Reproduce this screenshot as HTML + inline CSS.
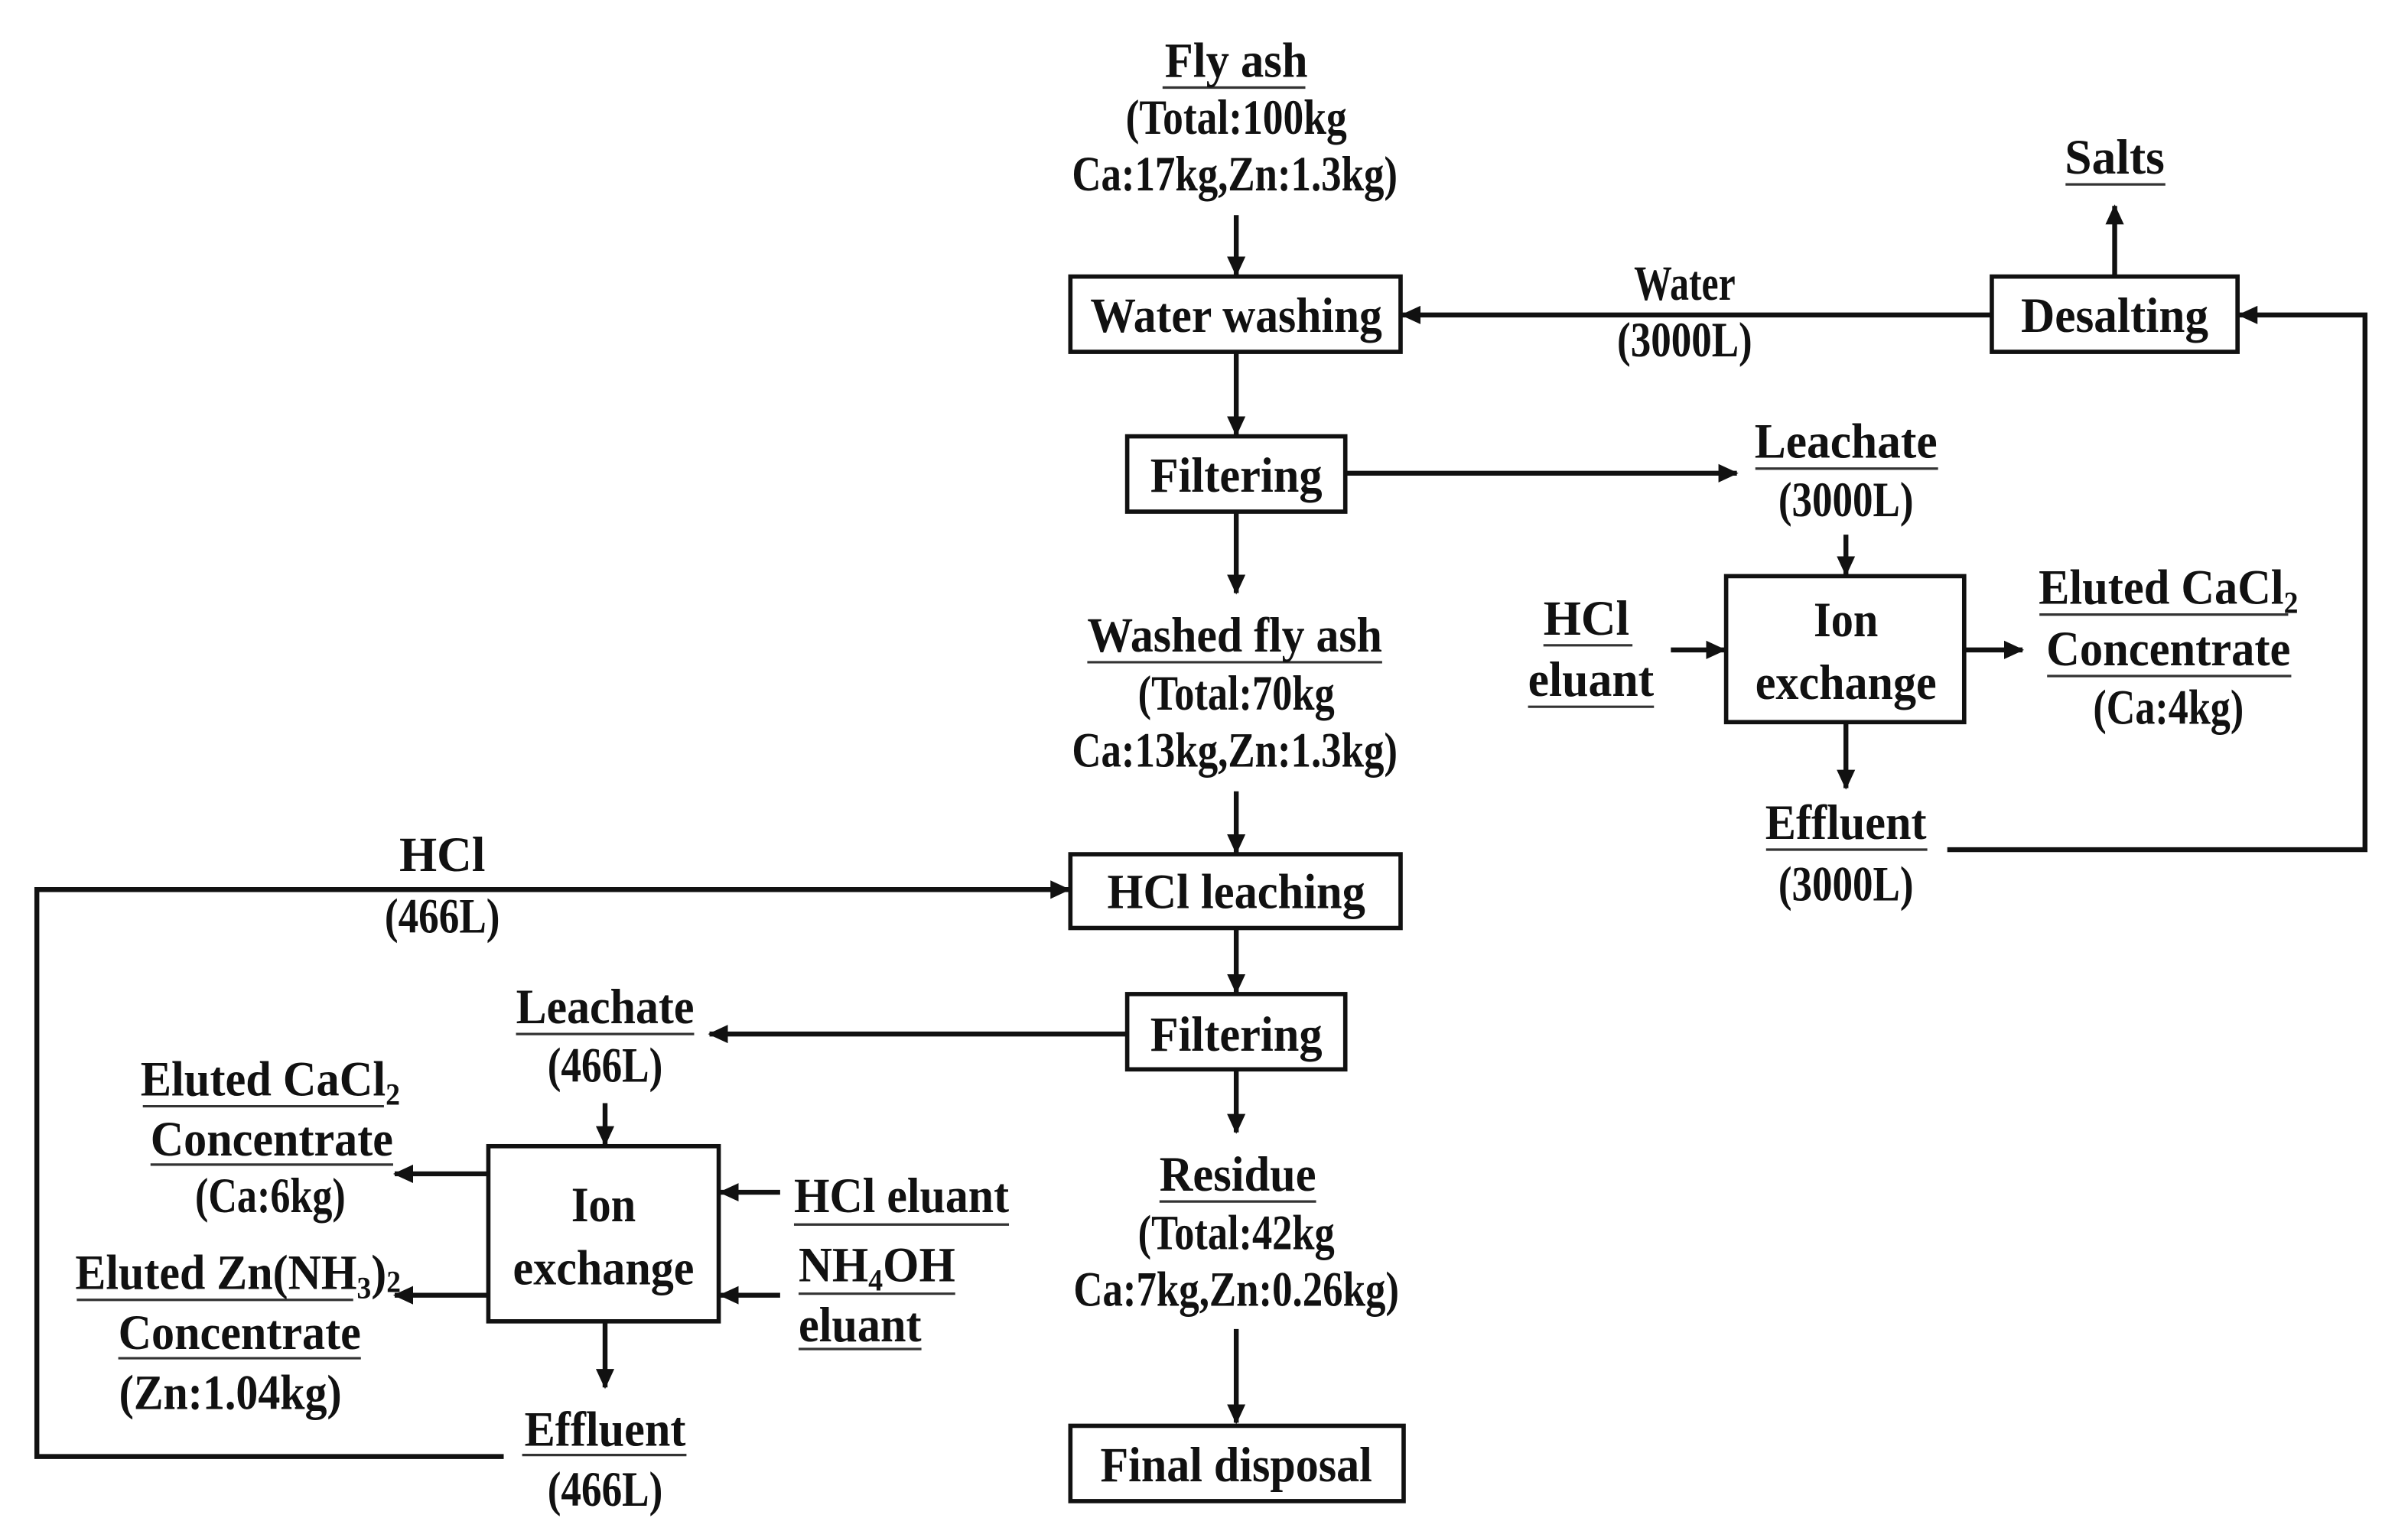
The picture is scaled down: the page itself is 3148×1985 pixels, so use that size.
<!DOCTYPE html>
<html><head><meta charset="utf-8"><style>
html,body{margin:0;padding:0;background:#fff}
svg{display:block}
text{font-family:"Liberation Serif",serif;font-weight:bold;font-size:32px;fill:#111;text-anchor:middle}
.b{fill:#fff;stroke:#111;stroke-width:2.8}
.l{stroke:#111;stroke-width:3.2;fill:none}
.u{stroke:#333;stroke-width:1.6}
</style></head><body>
<svg width="3148" height="1985" viewBox="0 0 1568 988" preserveAspectRatio="none" xmlns="http://www.w3.org/2000/svg">
<defs><marker id="a" markerUnits="userSpaceOnUse" markerWidth="14" markerHeight="14" refX="12" refY="7" orient="auto"><path d="M0,1 L13,7 L0,13 z" fill="#111"/></marker></defs>

<rect class="b" x="697" y="180" width="215" height="49"/>
<rect class="b" x="734" y="284" width="142" height="49"/>
<rect class="b" x="1297" y="180" width="160" height="49"/>
<rect class="b" x="1124" y="375" width="155" height="95"/>
<rect class="b" x="697" y="556" width="215" height="48"/>
<rect class="b" x="734" y="647" width="142" height="49"/>
<rect class="b" x="318" y="746" width="150" height="114"/>
<rect class="b" x="697" y="928" width="217" height="49"/>

<line class="l" x1="805" y1="140" x2="805" y2="179" marker-end="url(#a)"/>
<line class="l" x1="805" y1="229" x2="805" y2="283" marker-end="url(#a)"/>
<line class="l" x1="876" y1="308" x2="1131" y2="308" marker-end="url(#a)"/>
<line class="l" x1="1202" y1="348" x2="1202" y2="374" marker-end="url(#a)"/>
<line class="l" x1="1088" y1="423" x2="1123" y2="423" marker-end="url(#a)"/>
<line class="l" x1="1280" y1="423" x2="1317" y2="423" marker-end="url(#a)"/>
<line class="l" x1="1202" y1="470" x2="1202" y2="513" marker-end="url(#a)"/>
<polyline class="l" points="1268,553 1540,553 1540,205 1458,205" marker-end="url(#a)"/>
<line class="l" x1="1297" y1="205" x2="913" y2="205" marker-end="url(#a)"/>
<line class="l" x1="1377" y1="180" x2="1377" y2="134" marker-end="url(#a)"/>
<line class="l" x1="805" y1="333" x2="805" y2="386" marker-end="url(#a)"/>
<line class="l" x1="805" y1="515" x2="805" y2="555" marker-end="url(#a)"/>
<polyline class="l" points="328,948 24,948 24,579 696,579" marker-end="url(#a)"/>
<line class="l" x1="805" y1="604" x2="805" y2="646" marker-end="url(#a)"/>
<line class="l" x1="734" y1="673" x2="462" y2="673" marker-end="url(#a)"/>
<line class="l" x1="394" y1="718" x2="394" y2="745" marker-end="url(#a)"/>
<line class="l" x1="318" y1="764" x2="257" y2="764" marker-end="url(#a)"/>
<line class="l" x1="318" y1="843" x2="257" y2="843" marker-end="url(#a)"/>
<line class="l" x1="508" y1="776" x2="469" y2="776" marker-end="url(#a)"/>
<line class="l" x1="508" y1="843" x2="469" y2="843" marker-end="url(#a)"/>
<line class="l" x1="394" y1="860" x2="394" y2="903" marker-end="url(#a)"/>
<line class="l" x1="805" y1="696" x2="805" y2="737" marker-end="url(#a)"/>
<line class="l" x1="805" y1="865" x2="805" y2="926" marker-end="url(#a)"/>

<g class="u">
<line x1="757" y1="57" x2="850" y2="57"/>
<line x1="1345" y1="120" x2="1410" y2="120"/>
<line x1="1143" y1="305" x2="1262" y2="305"/>
<line x1="1005" y1="420" x2="1063" y2="420"/>
<line x1="995" y1="460" x2="1077" y2="460"/>
<line x1="1328" y1="400" x2="1490" y2="400"/>
<line x1="1333" y1="440" x2="1492" y2="440"/>
<line x1="1150" y1="553" x2="1255" y2="553"/>
<line x1="708" y1="431" x2="900" y2="431"/>
<line x1="336" y1="673" x2="452" y2="673"/>
<line x1="93" y1="720" x2="250" y2="720"/>
<line x1="98" y1="758" x2="256" y2="758"/>
<line x1="50" y1="846" x2="230" y2="846"/>
<line x1="77" y1="884" x2="235" y2="884"/>
<line x1="517" y1="797" x2="657" y2="797"/>
<line x1="520" y1="842" x2="622" y2="842"/>
<line x1="520" y1="878" x2="600" y2="878"/>
<line x1="340" y1="947" x2="447" y2="947"/>
<line x1="755" y1="782" x2="857" y2="782"/>
</g>

<text x="805" y="50" textLength="93" lengthAdjust="spacingAndGlyphs">Fly ash</text>
<text x="805" y="87" textLength="144" lengthAdjust="spacingAndGlyphs">(Total:100kg</text>
<text x="804" y="124" textLength="212" lengthAdjust="spacingAndGlyphs">Ca:17kg,Zn:1.3kg)</text>
<text x="805" y="216" textLength="190" lengthAdjust="spacingAndGlyphs">Water washing</text>
<text x="805" y="320" textLength="112" lengthAdjust="spacingAndGlyphs">Filtering</text>
<text x="1377" y="216" textLength="122" lengthAdjust="spacingAndGlyphs">Desalting</text>
<text x="1377" y="113" textLength="65" lengthAdjust="spacingAndGlyphs">Salts</text>
<text x="1097" y="195" font-size="28" textLength="66" lengthAdjust="spacingAndGlyphs">Water</text>
<text x="1097" y="232" font-size="28" textLength="88" lengthAdjust="spacingAndGlyphs">(3000L)</text>
<text x="1202" y="298" textLength="119" lengthAdjust="spacingAndGlyphs">Leachate</text>
<text x="1202" y="336" font-size="28" textLength="88" lengthAdjust="spacingAndGlyphs">(3000L)</text>
<text x="1202" y="414" textLength="42" lengthAdjust="spacingAndGlyphs">Ion</text>
<text x="1202" y="455" textLength="118" lengthAdjust="spacingAndGlyphs">exchange</text>
<text x="1033" y="413" textLength="56" lengthAdjust="spacingAndGlyphs">HCl</text>
<text x="1036" y="453" textLength="82" lengthAdjust="spacingAndGlyphs">eluant</text>
<text x="1412" y="393" textLength="169" lengthAdjust="spacingAndGlyphs">Eluted CaCl<tspan font-size="20" dy="6">2</tspan></text>
<text x="1412" y="433" textLength="159" lengthAdjust="spacingAndGlyphs">Concentrate</text>
<text x="1412" y="471" font-size="28" textLength="98" lengthAdjust="spacingAndGlyphs">(Ca:4kg)</text>
<text x="1202" y="546" textLength="105" lengthAdjust="spacingAndGlyphs">Effluent</text>
<text x="1202" y="586" font-size="28" textLength="88" lengthAdjust="spacingAndGlyphs">(3000L)</text>
<text x="804" y="424" textLength="192" lengthAdjust="spacingAndGlyphs">Washed fly ash</text>
<text x="805" y="462" textLength="128" lengthAdjust="spacingAndGlyphs">(Total:70kg</text>
<text x="804" y="499" textLength="212" lengthAdjust="spacingAndGlyphs">Ca:13kg,Zn:1.3kg)</text>
<text x="805" y="591" textLength="168" lengthAdjust="spacingAndGlyphs">HCl leaching</text>
<text x="288" y="567" textLength="56" lengthAdjust="spacingAndGlyphs">HCl</text>
<text x="288" y="607" font-size="28" textLength="75" lengthAdjust="spacingAndGlyphs">(466L)</text>
<text x="805" y="684" textLength="112" lengthAdjust="spacingAndGlyphs">Filtering</text>
<text x="394" y="666" textLength="116" lengthAdjust="spacingAndGlyphs">Leachate</text>
<text x="394" y="704" font-size="28" textLength="75" lengthAdjust="spacingAndGlyphs">(466L)</text>
<text x="176" y="713" textLength="169" lengthAdjust="spacingAndGlyphs">Eluted CaCl<tspan font-size="20" dy="6">2</tspan></text>
<text x="177" y="752" textLength="158" lengthAdjust="spacingAndGlyphs">Concentrate</text>
<text x="176" y="789" font-size="28" textLength="98" lengthAdjust="spacingAndGlyphs">(Ca:6kg)</text>
<text x="155" y="839" textLength="212" lengthAdjust="spacingAndGlyphs">Eluted Zn(NH<tspan font-size="20" dy="6">3</tspan><tspan dy="-6">)</tspan><tspan font-size="20" dy="2">2</tspan></text>
<text x="156" y="878" textLength="158" lengthAdjust="spacingAndGlyphs">Concentrate</text>
<text x="150" y="917" font-size="28" textLength="145" lengthAdjust="spacingAndGlyphs">(Zn:1.04kg)</text>
<text x="393" y="795" textLength="42" lengthAdjust="spacingAndGlyphs">Ion</text>
<text x="393" y="836" textLength="118" lengthAdjust="spacingAndGlyphs">exchange</text>
<text x="587" y="789" textLength="140" lengthAdjust="spacingAndGlyphs">HCl eluant</text>
<text x="571" y="834" textLength="102" lengthAdjust="spacingAndGlyphs">NH<tspan font-size="20" dy="6">4</tspan><tspan dy="-6">OH</tspan></text>
<text x="560" y="873" textLength="80" lengthAdjust="spacingAndGlyphs">eluant</text>
<text x="394" y="941" textLength="105" lengthAdjust="spacingAndGlyphs">Effluent</text>
<text x="394" y="980" font-size="28" textLength="75" lengthAdjust="spacingAndGlyphs">(466L)</text>
<text x="806" y="775" textLength="102" lengthAdjust="spacingAndGlyphs">Residue</text>
<text x="805" y="813" textLength="128" lengthAdjust="spacingAndGlyphs">(Total:42kg</text>
<text x="805" y="850" textLength="212" lengthAdjust="spacingAndGlyphs">Ca:7kg,Zn:0.26kg)</text>
<text x="805" y="964" textLength="177" lengthAdjust="spacingAndGlyphs">Final disposal</text>
</svg>
</body></html>
